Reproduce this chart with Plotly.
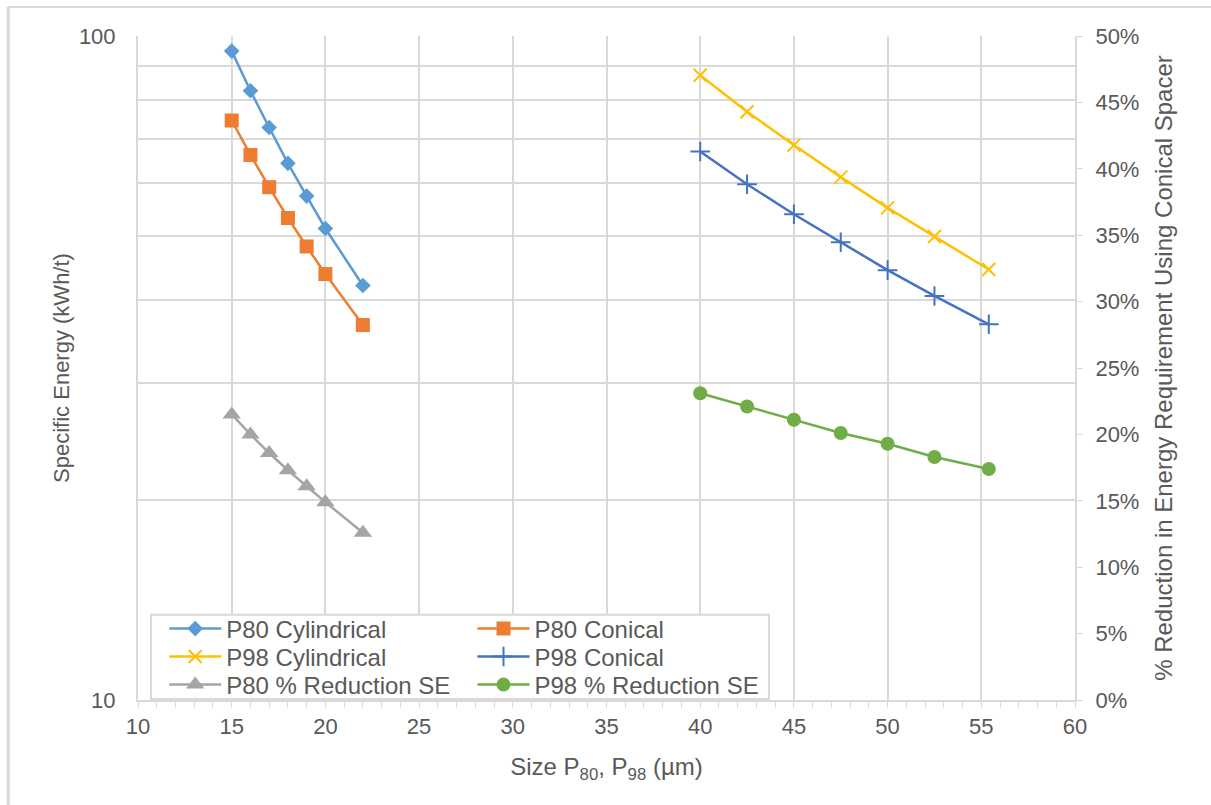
import plotly.graph_objects as go

# Particle sizes (µm)
p80_size = [15, 16, 17, 18, 19, 20, 22]
p98_size = [40, 42.5, 45, 47.5, 50, 52.5, 55.4]

# Specific energy (kWh/t)
p80_cylindrical = [94.9, 82.7, 72.8, 64.3, 57.4, 51.3, 42.1]
p80_conical = [74.6, 66.2, 59.2, 53.2, 48.2, 43.8, 36.7]
p98_cylindrical = [87.3, 76.9, 68.5, 61.3, 55.1, 49.9, 44.5]
p98_conical = [67.0, 59.8, 53.9, 48.9, 44.4, 40.6, 36.8]

# % reduction in specific energy with the conical spacer
p80_reduction = [21.5, 20.0, 18.6, 17.3, 16.1, 14.9, 12.6]
p98_reduction = [23.1, 22.1, 21.1, 20.1, 19.3, 18.3, 17.4]

x_ticks = [10, 15, 20, 25, 30, 35, 40, 45, 50, 55, 60]
y_ticks = [10, 20, 30, 40, 50, 60, 70, 80, 90, 100]
y_tick_text = ["10", "", "", "", "", "", "", "", "", "100"]
y2_ticks = [0, 5, 10, 15, 20, 25, 30, 35, 40, 45, 50]
y2_tick_text = [f"{v}%" for v in y2_ticks]

FONT = "Liberation Sans, Arial, sans-serif"
TEXT = "#595959"
GRID = "#d9d9d9"

fig = go.Figure()


def add_series(x, y, name, color, symbol, size, legend, yaxis="y", thin=False):
    marker = dict(symbol=symbol, size=size, color=color,
                  line=dict(color=color, width=2 if thin else 0))
    fig.add_trace(go.Scatter(
        x=x, y=y, name=name, mode="lines+markers",
        line=dict(color=color, width=2.5),
        marker=marker, legend=legend, yaxis=yaxis,
    ))


# each legend entry gets its own legend box so the 2x3 grid can be placed exactly
add_series(p80_size, p80_cylindrical, "P80 Cylindrical", "#5B9BD5", "diamond", 12, "legend")
add_series(p80_size, p80_conical, "P80 Conical", "#ED7D31", "square", 14, "legend2")
add_series(p98_size, p98_cylindrical, "P98 Cylindrical", "#FFC000", "x-thin", 13, "legend3", thin=True)
add_series(p98_size, p98_conical, "P98 Conical", "#4472C4", "cross-thin", 14, "legend4", thin=True)
add_series(p80_size, p80_reduction, "P80 % Reduction SE", "#A5A5A5", "triangle-up", 16, "legend5", yaxis="y2")
add_series(p98_size, p98_reduction, "P98 % Reduction SE", "#70AD47", "circle", 14, "legend6", yaxis="y2")

legend_common = dict(
    font=dict(family=FONT, size=24, color=TEXT),
    bgcolor="rgba(0,0,0,0)", borderwidth=0,
    orientation="v", yanchor="middle", xanchor="left",
    itemwidth=52, tracegroupgap=0,
)
col_x = [0.028, 0.357]
row_y = [0.1069, 0.0648, 0.0226]

TITLE_SIZE = 24
TICK_SIZE = 22

fig.update_layout(
    width=1211, height=805,
    margin=dict(l=138, r=136, t=36, b=105),
    paper_bgcolor="white", plot_bgcolor="white",
    font=dict(family=FONT, color=TEXT, size=TICK_SIZE),
    showlegend=True,
    legend=dict(x=col_x[0], y=row_y[0], **legend_common),
    legend2=dict(x=col_x[1], y=row_y[0], **legend_common),
    legend3=dict(x=col_x[0], y=row_y[1], **legend_common),
    legend4=dict(x=col_x[1], y=row_y[1], **legend_common),
    legend5=dict(x=col_x[0], y=row_y[2], **legend_common),
    legend6=dict(x=col_x[1], y=row_y[2], **legend_common),
    xaxis=dict(
        range=[10, 60], tickvals=x_ticks,
        showgrid=True, gridcolor=GRID, gridwidth=2,
        showline=True, linecolor=GRID, linewidth=2,
        ticks="outside", ticklen=6, tickcolor=GRID, tickwidth=1,
        minor=dict(dtick=1, ticks="outside", ticklen=6, tickcolor=GRID, tickwidth=1, showgrid=False),
        tickfont=dict(size=TICK_SIZE, color=TEXT),
        title=dict(text="Size P<sub>80</sub>, P<sub>98</sub> (µm)",
                   font=dict(size=TITLE_SIZE, color=TEXT), standoff=20),
        zeroline=False,
    ),
    yaxis=dict(
        type="log", range=[1, 2],
        tickvals=y_ticks, ticktext=y_tick_text,
        showgrid=True, gridcolor=GRID, gridwidth=2,
        showline=True, linecolor=GRID, linewidth=2,
        ticks="", ticklabelstandoff=16,
        tickfont=dict(size=TICK_SIZE, color=TEXT),
        title=dict(text="Specific Energy (kWh/t)",
                   font=dict(size=22, color=TEXT), standoff=3),
        zeroline=False,
    ),
    yaxis2=dict(
        overlaying="y", side="right", range=[0, 50],
        tickvals=y2_ticks, ticktext=y2_tick_text,
        showgrid=False,
        showline=True, linecolor=GRID, linewidth=2,
        ticks="outside", ticklen=6, tickcolor=GRID, tickwidth=1,
        ticklabelstandoff=8,
        tickfont=dict(size=TICK_SIZE, color=TEXT),
        title=dict(text="% Reduction in Energy Requirement Using Conical Spacer",
                   font=dict(size=TITLE_SIZE, color=TEXT), standoff=17),
        zeroline=False,
    ),
    shapes=[
        # legend box
        dict(type="rect", xref="paper", yref="paper",
             x0=0.0139, x1=0.6734, y0=0.0015, y1=0.1285,
             line=dict(color=GRID, width=2), fillcolor="white", layer="above"),
        # chart area frame (left and top edges)
        dict(type="line", xref="paper", yref="paper",
             x0=-0.1385, x1=-0.1385, y0=-0.25, y1=1.0437,
             line=dict(color=GRID, width=3)),
        dict(type="line", xref="paper", yref="paper",
             x0=-0.1385, x1=1.3, y0=1.0437, y1=1.0437,
             line=dict(color=GRID, width=2)),
    ],
)

fig.write_html("out.html")
